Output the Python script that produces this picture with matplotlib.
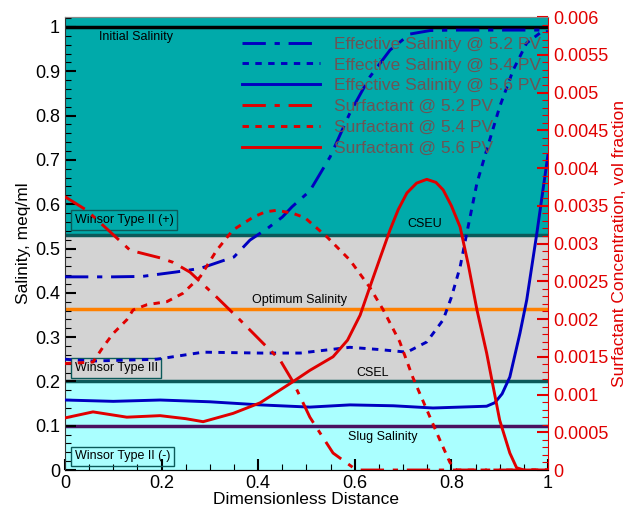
import numpy as np
import matplotlib
matplotlib.use("Agg")
import matplotlib.pyplot as plt
from matplotlib.ticker import MultipleLocator, FuncFormatter

plt.rcParams['font.family'] = ['Liberation Sans', 'DejaVu Sans']

# --- data ---
eff52_x = [0, 0.05, 0.1, 0.16, 0.23, 0.28, 0.35, 0.383, 0.42, 0.45, 0.47, 0.507,
           0.549, 0.59, 0.631, 0.673, 0.714, 0.756, 0.8, 0.9, 1.0]
eff52_y = [0.436, 0.436, 0.436, 0.437, 0.447, 0.455, 0.481, 0.519, 0.546, 0.571, 0.594, 0.63,
           0.707, 0.806, 0.887, 0.948, 0.984, 0.992, 0.993, 0.993, 0.993]

eff54_x = [0, 0.058, 0.19, 0.286, 0.404, 0.487, 0.59, 0.65, 0.708, 0.749, 0.783, 0.8,
           0.818, 0.832, 0.853, 0.873, 0.9, 0.928, 0.956, 0.983, 1.0]
eff54_y = [0.25, 0.246, 0.25, 0.266, 0.264, 0.264, 0.277, 0.272, 0.266, 0.289, 0.339, 0.39,
           0.458, 0.535, 0.648, 0.722, 0.82, 0.903, 0.964, 0.986, 0.99]

eff56_x = [0, 0.1, 0.197, 0.3, 0.404, 0.507, 0.59, 0.68, 0.762, 0.873, 0.89, 0.905, 0.921,
           0.942, 0.956, 0.977, 1.0]
eff56_y = [0.158, 0.155, 0.158, 0.154, 0.147, 0.142, 0.147, 0.145, 0.14, 0.144, 0.152, 0.172,
           0.21, 0.309, 0.384, 0.535, 0.712]

surf52_x = [0, 0.045, 0.135, 0.197, 0.224, 0.259, 0.314, 0.362, 0.41, 0.445, 0.472, 0.487,
            0.507, 0.52, 0.555, 0.597, 0.61, 0.7, 0.8, 0.9, 1.0]
surf52_y = [0.00362, 0.00344, 0.00291, 0.00281, 0.00275, 0.00262, 0.00229, 0.00199, 0.00168,
            0.00146, 0.00117, 0.00097, 0.0007, 0.00057, 0.000225, 0.00003, 0, 0, 0, 0, 0]

surf54_x = [0, 0.058, 0.079, 0.1, 0.128, 0.141, 0.17, 0.211, 0.244, 0.28, 0.314, 0.348,
            0.39, 0.415, 0.439, 0.472, 0.497, 0.542, 0.59, 0.631, 0.659, 0.693, 0.72, 0.749,
            0.776, 0.797, 0.81, 0.9, 1.0]
surf54_y = [0.00141, 0.00143, 0.00163, 0.00181, 0.00199, 0.00212, 0.00219, 0.00223, 0.00234,
            0.00256, 0.00291, 0.00318, 0.00335, 0.00342, 0.00344, 0.0034, 0.00334, 0.00309,
            0.00278, 0.00242, 0.00212, 0.0017, 0.00123, 0.0008, 0.0004, 0.0001, 0, 0, 0]

surf56_x = [0, 0.058, 0.128, 0.197, 0.25, 0.286, 0.348, 0.404, 0.472, 0.507, 0.555, 0.585,
            0.611, 0.631, 0.653, 0.673, 0.69, 0.708, 0.728, 0.749, 0.768, 0.783, 0.80, 0.818,
            0.835, 0.853, 0.873, 0.9, 0.921, 0.935, 0.95, 1.0]
surf56_y = [0.00069, 0.00077, 0.0007, 0.00072, 0.00068, 0.00064, 0.00075, 0.00089, 0.00117,
            0.00132, 0.0015, 0.00172, 0.00205, 0.00242, 0.00282, 0.00318, 0.00345, 0.00367,
            0.0038, 0.00385, 0.00381, 0.00371, 0.0035, 0.00322, 0.00272, 0.00212, 0.00155,
            0.00066, 0.000225, 0.00003, 0, 0]

# salinity levels
initial_sal = 1.0
cseu = 0.53
optimum = 0.363
csel = 0.2
slug = 0.1

teal = '#00aaaa'
grey = '#d3d3d3'
cyan = '#aaffff'
dark_teal = '#0b5a5a'
blue = '#0000c0'
red = '#e00000'

fig = plt.figure(figsize=(6.29, 5.11), dpi=100)
ax = fig.add_axes([0.1033, 0.0802, 0.7679, 0.8865])
ax2 = ax.twinx()

ymax = 1.0225
ax.set_xlim(0, 1)
ax.set_ylim(0, ymax)
ax2.set_ylim(0, 0.006)

# regions
ax.axhspan(cseu, ymax, color=teal, zorder=0)
ax.axhspan(csel, cseu, color=grey, zorder=0)
ax.axhspan(0, csel, color=cyan, zorder=0)

ax.axhline(initial_sal, color='black', lw=2.5, zorder=1)
ax.axhline(cseu, color=dark_teal, lw=2.5, zorder=1)
ax.axhline(optimum, color='#ff8000', lw=2.5, zorder=1)
ax.axhline(csel, color=dark_teal, lw=2.5, zorder=1)
ax.axhline(slug, color='#4a1060', lw=2.5, zorder=1)

fs = 9
ax.text(0.147, 0.977, 'Initial Salinity', fontsize=fs, ha='center', va='center')
ax.text(0.745, 0.556, 'CSEU', fontsize=fs, ha='center', va='center')
ax.text(0.486, 0.383, 'Optimum Salinity', fontsize=fs, ha='center', va='center')
ax.text(0.636, 0.218, 'CSEL', fontsize=fs, ha='center', va='center')
ax.text(0.657, 0.075, 'Slug Salinity', fontsize=fs, ha='center', va='center')
box = dict(boxstyle='square,pad=0.3', fc='none', ec=dark_teal, lw=1)
ax.text(0.02, 0.564, 'Winsor Type II (+)', fontsize=fs, va='center', bbox=box)
ax.text(0.02, 0.23, 'Winsor Type III', fontsize=fs, va='center', bbox=box)
ax.text(0.02, 0.031, 'Winsor Type II (-)', fontsize=fs, va='center', bbox=box)

lw = 2.1
dashdot = (0, (8, 3, 1.8, 3))
dotted = (0, (2.2, 2.2))
h1, = ax.plot(eff52_x, eff52_y, color=blue, lw=lw, ls=dashdot, zorder=3)
h2, = ax.plot(eff54_x, eff54_y, color=blue, lw=lw, ls=dotted, zorder=3)
h3, = ax.plot(eff56_x, eff56_y, color=blue, lw=lw, zorder=3)
h4, = ax2.plot(surf52_x, surf52_y, color=red, lw=lw, ls=dashdot)
h5, = ax2.plot(surf54_x, surf54_y, color=red, lw=lw, ls=dotted)
h6, = ax2.plot(surf56_x, surf56_y, color=red, lw=lw)

labels = ['Effective Salinity @ 5.2 PV', 'Effective Salinity @ 5.4 PV',
          'Effective Salinity @ 5.6 PV', 'Surfactant @ 5.2 PV',
          'Surfactant @ 5.4 PV', 'Surfactant @ 5.6 PV']
leg = ax2.legend([h1, h2, h3, h4, h5, h6], labels, loc='upper left',
                 bbox_to_anchor=(0.366, 0.957), frameon=False, fontsize=12.5,
                 handlelength=4.5, handletextpad=0.8, labelspacing=0.33,
                 borderpad=0, borderaxespad=0)
for t in leg.get_texts():
    t.set_color('#6b5555')

# ticks
fmt = FuncFormatter(lambda v, p: '%g' % round(v, 6))
ax.xaxis.set_major_locator(MultipleLocator(0.2))
ax.xaxis.set_minor_locator(MultipleLocator(0.05))
ax.yaxis.set_major_locator(MultipleLocator(0.1))
ax.yaxis.set_minor_locator(MultipleLocator(0.02))
ax.xaxis.set_major_formatter(fmt)
ax.yaxis.set_major_formatter(fmt)
ax2.yaxis.set_major_locator(MultipleLocator(0.0005))
ax2.yaxis.set_minor_locator(MultipleLocator(0.0001))
ax2.yaxis.set_major_formatter(fmt)

ax.tick_params(which='both', direction='in', labelsize=13, top=False, right=False)
ax.tick_params(which='major', length=8, width=1.5)
ax.tick_params(which='minor', length=4, width=0.8)
ax2.tick_params(which='both', direction='in', colors=red, labelcolor=red, labelsize=13)
ax2.tick_params(which='major', length=8, width=1.5)
ax2.tick_params(which='minor', length=4, width=0.8)

ax.spines['top'].set_color('#888888')
ax2.spines['top'].set_color('#888888')
ax2.spines['right'].set_color(red)
ax2.spines['left'].set_visible(False)
ax.spines['right'].set_visible(False)
ax.spines['left'].set_color('#333333')
ax.spines['bottom'].set_color('#333333')

ax.set_xlabel('Dimensionless Distance', fontsize=12.5, labelpad=0)
ax.set_ylabel('Salinity, meq/ml', fontsize=12.5, labelpad=3)
ax2.set_ylabel('Surfactant Concentration, vol fraction', fontsize=12.5, color=red, labelpad=3)

fig.savefig('out.png', dpi=100)
